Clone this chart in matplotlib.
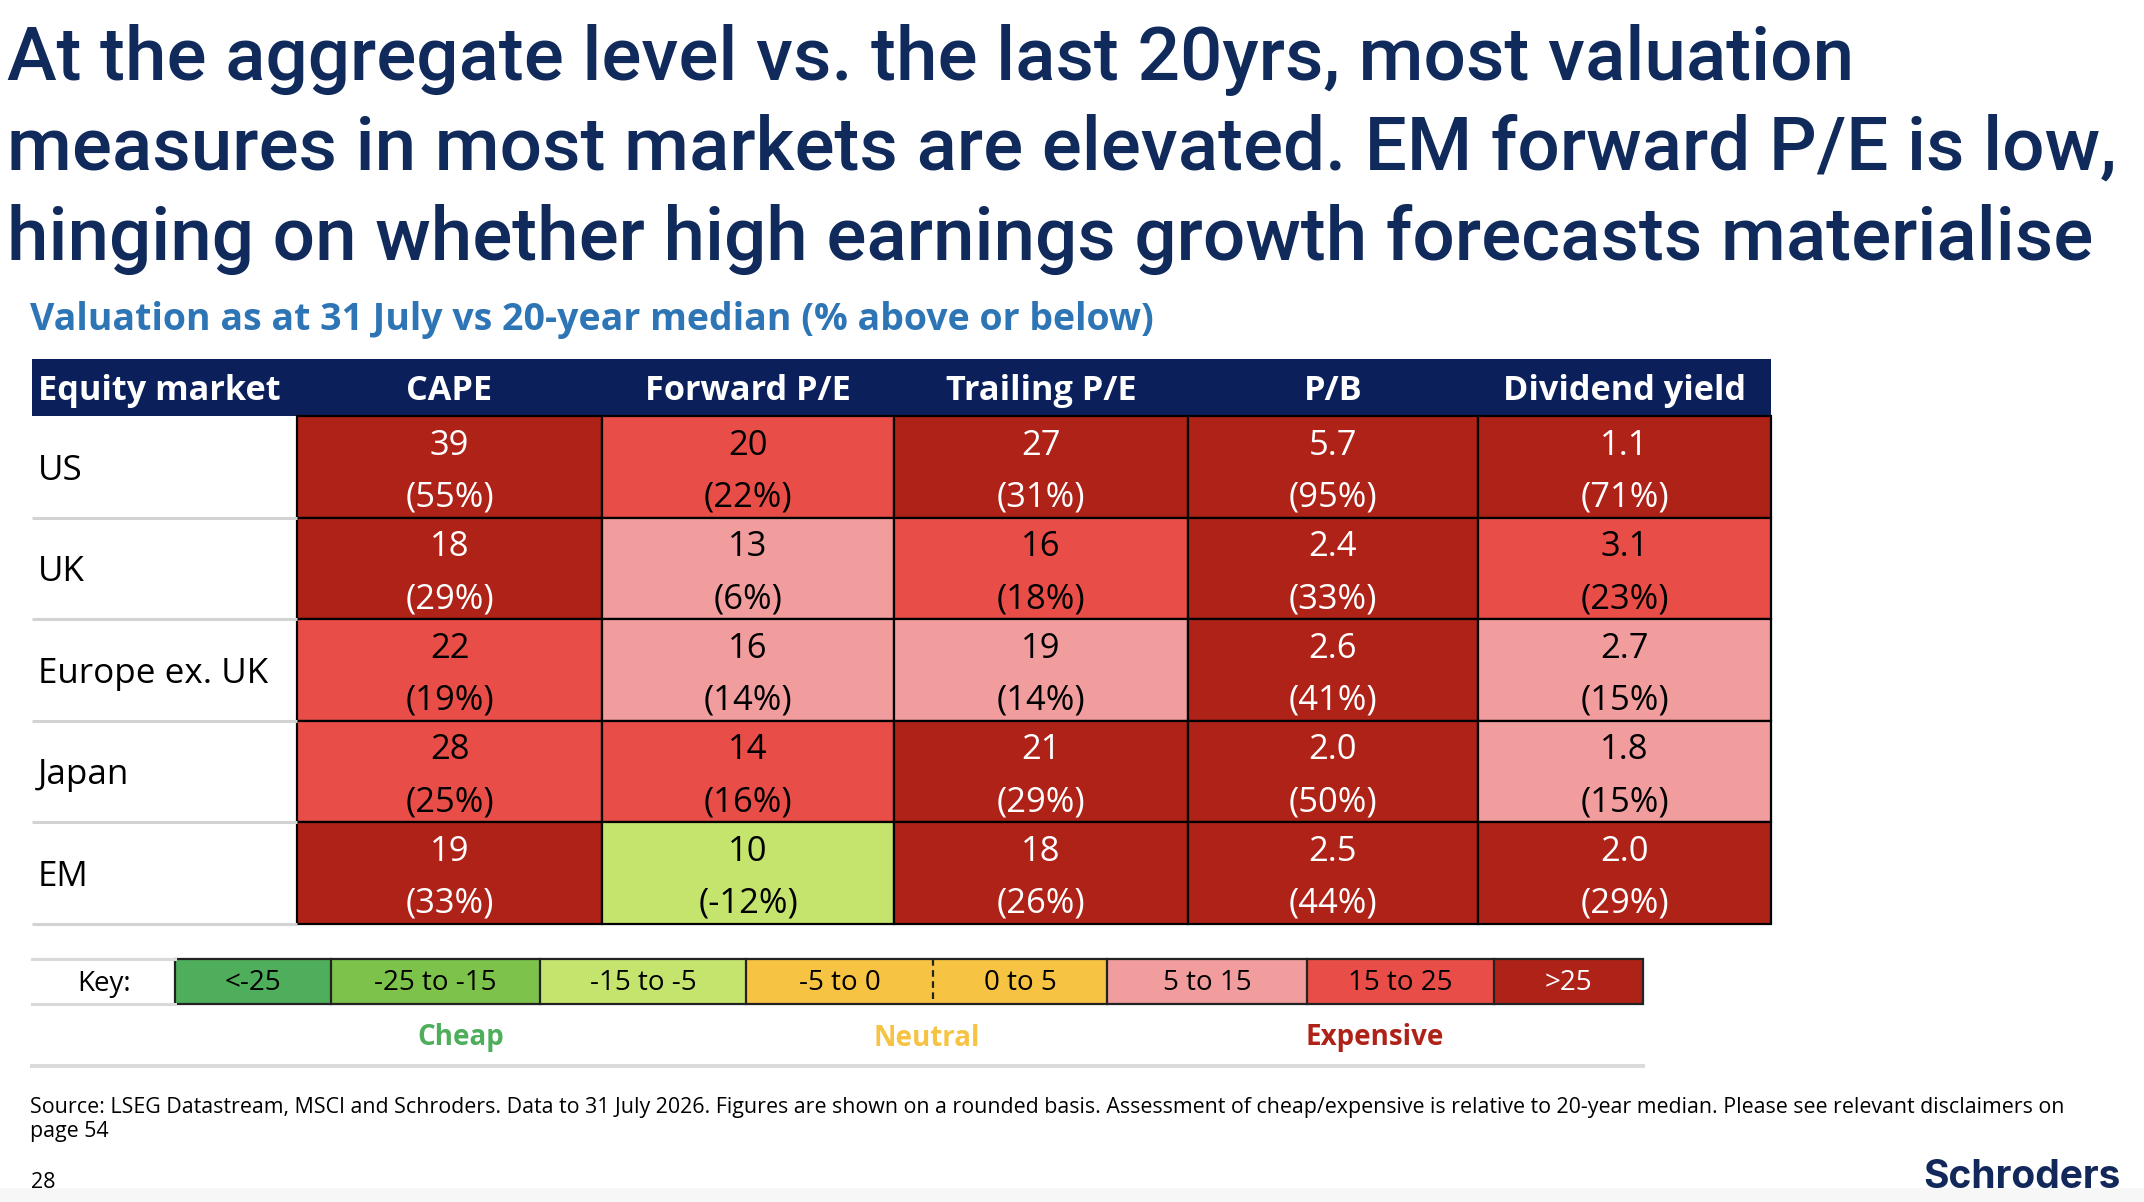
import matplotlib
matplotlib.use("Agg")
import matplotlib.pyplot as plt
from matplotlib.patches import Rectangle
import numpy as np

# ---- data -------------------------------------------------------------
markets = ["US", "UK", "Europe ex. UK", "Japan", "EM"]
metrics = ["CAPE", "Forward P/E", "Trailing P/E", "P/B", "Dividend yield"]
decimals = [0, 0, 0, 1, 1]

levels_us = [39, 20, 27, 5.7, 1.1]
levels_uk = [18, 13, 16, 2.4, 3.1]
levels_eu = [22, 16, 19, 2.6, 2.7]
levels_jp = [28, 14, 21, 2.0, 1.8]
levels_em = [19, 10, 18, 2.5, 2.0]

pct_us = [55, 22, 31, 95, 71]
pct_uk = [29, 6, 18, 33, 23]
pct_eu = [19, 14, 14, 41, 15]
pct_jp = [25, 16, 29, 50, 15]
pct_em = [33, -12, 26, 44, 29]

key_labels = ["<-25", "-25 to -15", "-15 to -5", "-5 to 0", "0 to 5",
              "5 to 15", "15 to 25", ">25"]
bin_edges = [-25, -15, -5, 0, 5, 15, 25]
key_colors = ["#4FAE5B", "#7CC24B", "#C5E46D", "#F6C342", "#F6C342",
              "#F19D9D", "#E84E47", "#AF2218"]
key_text_colors = ["black"] * 7 + ["white"]
groups = [("Cheap", 0, 3, "#4FAE5B"), ("Neutral", 3, 5, "#F6C342"),
          ("Expensive", 5, 8, "#AF2218")]

title_lines = ["At the aggregate level vs. the last 20yrs, most valuation",
               "measures in most markets are elevated. EM forward P/E is low,",
               "hinging on whether high earnings growth forecasts materialise"]
subtitle = "Valuation as at 31 July vs 20-year median (% above or below)"
source_lines = ["Source: LSEG Datastream, MSCI and Schroders. Data to 31 July 2026. "
                "Figures are shown on a rounded basis. Assessment of cheap/expensive "
                "is relative to 20-year median. Please see relevant disclaimers on",
                "page 54"]

levels = np.array([levels_us, levels_uk, levels_eu, levels_jp, levels_em])
pcts = np.array([pct_us, pct_uk, pct_eu, pct_jp, pct_em])

# ---- layout (pixels) --------------------------------------------------
W, H = 2144, 1202
NAVY = "#0B1F5B"
BODY = ["Open Sans", "DejaVu Sans"]
HEAD = ["Roboto", "DejaVu Sans"]

fig = plt.figure(figsize=(W / 100, H / 100), dpi=100)
ax = fig.add_axes([0, 0, 1, 1])
ax.set_xlim(0, W)
ax.set_ylim(H, 0)
ax.axis("off")
renderer = fig.canvas.get_renderer()

# title: size it so the longest line spans the same width as the slide
probe = ax.text(7, 170, title_lines[1], fontsize=50, family=HEAD,
                fontweight="medium", va="baseline")
w = probe.get_window_extent(renderer).width
probe.remove()
tsize = 50 * 2111 / w
for k, line in enumerate(title_lines):
    ax.text(7, 80 + 90 * k, line, fontsize=tsize, color="#102A5C", family=HEAD,
            fontweight="medium", va="baseline")

ax.text(30, 320, subtitle, fontsize=27, color="#2E75B6", family=BODY,
        fontweight="bold", va="center")

left, label_right = 32, 297
col_edges = [297, 602, 894, 1188, 1478, 1771]
head_top, head_bot = 359, 416
row_h = 101.5

# header band
ax.add_patch(Rectangle((left, head_top), col_edges[-1] - left, head_bot - head_top,
                       facecolor=NAVY, edgecolor="none"))
hy = (head_top + head_bot) / 2 + 3
ax.text(38, hy, "Equity market", fontsize=24.7, color="white", family=BODY,
        fontweight="bold", va="center", ha="left")
for j, m in enumerate(metrics):
    cx = (col_edges[j] + col_edges[j + 1]) / 2
    ax.text(cx, hy, m, fontsize=24.7, color="white", family=BODY,
            fontweight="bold", va="center", ha="center")

# body cells
bins = np.digitize(pcts, bin_edges, right=True)
for i, mk in enumerate(markets):
    y0 = head_bot + i * row_h
    cy = y0 + row_h / 2
    ax.plot([left, label_right], [y0 + row_h, y0 + row_h], color="#D3D3D3", lw=2.2,
            solid_capstyle="butt")
    ax.text(38, cy + 4, mk, fontsize=25.2, color="black", family=BODY,
            va="center", ha="left")
    for j in range(len(metrics)):
        x0 = col_edges[j]
        b = bins[i, j]
        ax.add_patch(Rectangle((x0, y0), col_edges[j + 1] - x0, row_h,
                               facecolor=key_colors[b], edgecolor="black", lw=1.6))
        tc = key_text_colors[b]
        cx = (x0 + col_edges[j + 1]) / 2
        ax.text(cx, cy - 21, f"{levels[i, j]:.{decimals[j]}f}", fontsize=24.8,
                color=tc, family=BODY, va="center", ha="center")
        ax.text(cx, cy + 31, f"({pcts[i, j]:.0f}%)", fontsize=24.8,
                color=tc, family=BODY, va="center", ha="center")

# key
key_edges = [175, 331, 540, 746, 933, 1107, 1307, 1494, 1643]
k_top, k_bot = 959, 1004
for yy in (k_top, k_bot):
    ax.plot([left, key_edges[0]], [yy, yy], color="#D9D9D9", lw=2.2)
ax.plot([left, key_edges[-1]], [1066, 1066], color="#D9D9D9", lw=2.8)
ax.text(104, (k_top + k_bot) / 2 + 2, "Key:", fontsize=20, family=BODY,
        va="center", ha="center")
for k, lab in enumerate(key_labels):
    x0, x1 = key_edges[k], key_edges[k + 1]
    ax.add_patch(Rectangle((x0, k_top), x1 - x0, k_bot - k_top,
                           facecolor=key_colors[k], edgecolor="none"))
    ax.text((x0 + x1) / 2, (k_top + k_bot) / 2 + 2, lab, fontsize=20,
            color=key_text_colors[k], family=BODY, va="center", ha="center")
ax.add_patch(Rectangle((key_edges[0], k_top), key_edges[-1] - key_edges[0],
                       k_bot - k_top, facecolor="none", edgecolor="#222222", lw=1.6))
for k in range(1, len(key_edges) - 1):
    ls = (0, (3, 2)) if k == 4 else "-"
    ax.plot([key_edges[k]] * 2, [k_top, k_bot], color="#222222", lw=1.6,
            linestyle=ls)
for name, a, b, col in groups:
    ax.text((key_edges[a] + key_edges[b]) / 2, 1038, name, fontsize=20,
            color=col, family=BODY, fontweight="bold", va="center", ha="center")

# footer
for k, line in enumerate(source_lines):
    ax.text(30, 1107 + 24 * k, line, fontsize=15.4, family=BODY, va="center",
            ha="left")
ax.text(31, 1183, "28", fontsize=15.5, family=BODY, va="center", ha="left")
ax.add_patch(Rectangle((0, 1188), W, H - 1188, facecolor="#F7F7F7", edgecolor="none",
                       zorder=0))
ax.text(2121, 1177, "Schroders", fontsize=28, color="#12285A",
        family=["Inter", "DejaVu Sans"], fontweight="bold", va="center", ha="right")

fig.savefig("out.png", dpi=100, facecolor="white")
